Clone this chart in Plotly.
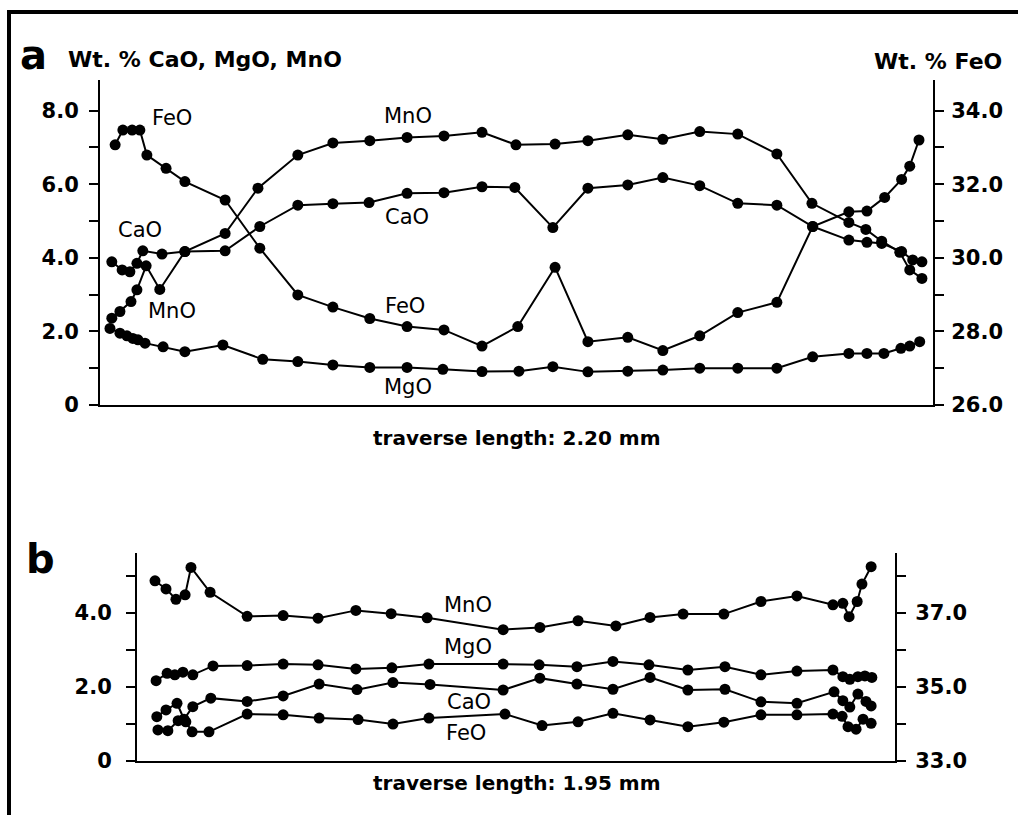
import plotly.graph_objects as go

W, H = 1018, 815

# ---------------- Panel a (traverse 2.20 mm) ----------------
a_mno_x = [0.005, 0.027, 0.057, 0.073, 0.098, 0.135, 0.203, 0.312, 0.401, 0.509, 0.604, 0.704,
           0.805, 0.905, 1.008, 1.100, 1.206, 1.295, 1.403, 1.498, 1.598, 1.701, 1.807, 1.902,
           2.002, 2.048, 2.091, 2.140, 2.167, 2.200]
a_mno = [2.36, 2.54, 2.81, 3.13, 3.78, 3.14, 4.17, 4.66, 5.89, 6.79, 7.12, 7.18,
         7.27, 7.31, 7.41, 7.07, 7.09, 7.18, 7.34, 7.22, 7.43, 7.36, 6.82, 5.48,
         4.96, 4.77, 4.45, 4.15, 3.67, 3.44]

a_cao_x = [0.005, 0.033, 0.054, 0.073, 0.089, 0.141, 0.203, 0.312, 0.406, 0.509, 0.604, 0.702,
           0.805, 0.905, 1.008, 1.097, 1.200, 1.295, 1.403, 1.498, 1.598, 1.701, 1.807, 1.904,
           2.002, 2.051, 2.091, 2.145, 2.175, 2.200]
a_cao = [3.89, 3.67, 3.62, 3.85, 4.19, 4.10, 4.17, 4.19, 4.85, 5.43, 5.47, 5.50,
         5.75, 5.77, 5.93, 5.91, 4.82, 5.89, 5.98, 6.18, 5.96, 5.48, 5.43, 4.85,
         4.48, 4.42, 4.39, 4.17, 3.94, 3.89]

a_mgo_x = [0.000, 0.027, 0.046, 0.062, 0.076, 0.095, 0.144, 0.203, 0.306, 0.414, 0.509, 0.604,
           0.704, 0.805, 0.902, 1.008, 1.108, 1.200, 1.295, 1.403, 1.498, 1.598, 1.701, 1.807,
           1.904, 2.002, 2.051, 2.097, 2.143, 2.167, 2.194]
a_mgo = [2.08, 1.95, 1.88, 1.81, 1.77, 1.68, 1.58, 1.45, 1.63, 1.24, 1.18, 1.09,
         1.02, 1.02, 0.97, 0.91, 0.92, 1.04, 0.90, 0.92, 0.95, 1.00, 1.00, 1.00,
         1.31, 1.40, 1.40, 1.40, 1.54, 1.60, 1.72]

a_feo_x = [0.014, 0.035, 0.060, 0.081, 0.100, 0.152, 0.203, 0.312, 0.406, 0.509, 0.604, 0.704,
           0.805, 0.905, 1.008, 1.105, 1.206, 1.295, 1.403, 1.498, 1.598, 1.701, 1.807, 1.904,
           2.002, 2.051, 2.099, 2.145, 2.167, 2.192]
a_feo = [33.07, 33.47, 33.47, 33.47, 32.79, 32.43, 32.07, 31.57, 30.26, 28.99, 28.66, 28.35,
         28.13, 28.04, 27.60, 28.13, 29.74, 27.72, 27.84, 27.48, 27.88, 28.51, 28.79, 30.85,
         31.25, 31.27, 31.64, 32.13, 32.49, 33.20]

a_left_ticks = [0, 1, 2, 3, 4, 5, 6, 7, 8]
a_left_text = ["0", "", "2.0", "", "4.0", "", "6.0", "", "8.0"]
a_right_ticks = [26, 27, 28, 29, 30, 31, 32, 33, 34]
a_right_text = ["26.0", "", "28.0", "", "30.0", "", "32.0", "", "34.0"]

# ---------------- Panel b (traverse 1.95 mm) ----------------
b_mno_x = [0.000, 0.030, 0.057, 0.082, 0.098, 0.150, 0.251, 0.349, 0.444, 0.547, 0.643, 0.741,
           0.948, 1.048, 1.152, 1.255, 1.348, 1.438, 1.549, 1.650, 1.748, 1.846, 1.873, 1.890,
           1.912, 1.925, 1.950]
b_mno = [4.86, 4.64, 4.36, 4.48, 5.22, 4.55, 3.90, 3.92, 3.85, 4.06, 3.97, 3.86,
         3.54, 3.60, 3.78, 3.64, 3.87, 3.96, 3.96, 4.30, 4.45, 4.21, 4.25, 3.89,
         4.30, 4.77, 5.24]

b_mgo_x = [0.003, 0.033, 0.054, 0.076, 0.103, 0.158, 0.251, 0.349, 0.444, 0.547, 0.645, 0.746,
           0.948, 1.046, 1.149, 1.247, 1.345, 1.451, 1.552, 1.650, 1.748, 1.846, 1.873, 1.892,
           1.914, 1.933, 1.952]
b_mgo = [2.16, 2.36, 2.32, 2.39, 2.32, 2.56, 2.57, 2.61, 2.59, 2.48, 2.51, 2.61,
         2.61, 2.59, 2.54, 2.68, 2.59, 2.45, 2.54, 2.32, 2.42, 2.45, 2.27, 2.20,
         2.27, 2.29, 2.25]

b_cao_x = [0.005, 0.030, 0.060, 0.079, 0.103, 0.152, 0.251, 0.349, 0.447, 0.550, 0.648, 0.749,
           0.948, 1.048, 1.149, 1.247, 1.348, 1.451, 1.552, 1.650, 1.748, 1.849, 1.873, 1.892,
           1.914, 1.936, 1.950]
b_cao = [1.19, 1.37, 1.55, 1.12, 1.46, 1.69, 1.60, 1.75, 2.07, 1.92, 2.11, 2.06,
         1.91, 2.23, 2.07, 1.93, 2.25, 1.91, 1.93, 1.59, 1.55, 1.86, 1.62, 1.45,
         1.80, 1.60, 1.48]

b_feo_x = [0.008, 0.035, 0.063, 0.084, 0.101, 0.147, 0.251, 0.349, 0.447, 0.553, 0.648, 0.746,
           0.953, 1.054, 1.152, 1.247, 1.348, 1.451, 1.549, 1.650, 1.748, 1.846, 1.871, 1.887,
           1.909, 1.928, 1.950]
b_feo = [33.83, 33.81, 34.08, 34.05, 33.78, 33.78, 34.26, 34.24, 34.15, 34.11, 33.99, 34.15,
         34.26, 33.95, 34.05, 34.28, 34.10, 33.92, 34.04, 34.24, 34.24, 34.26, 34.20, 33.92,
         33.85, 34.12, 34.01]

b_left_ticks = [0, 1, 2, 3, 4, 5]
b_left_text = ["0", "", "2.0", "", "4.0", ""]
b_right_ticks = [33, 34, 35, 36, 37, 38]
b_right_text = ["33.0", "", "35.0", "", "37.0", ""]


# ---------------- helpers for pixel-based layout ----------------
def px(x):
    return x / W


def py(y):
    return 1 - y / H


FONT = "DejaVu Sans"
tickfont = dict(family=FONT, size=21, color="black", weight="bold")
line_style = dict(color="black", width=2)
marker_style = dict(color="black", size=11)

fig = go.Figure()


def add(x, y, xa, ya):
    fig.add_trace(go.Scatter(x=x, y=y, xaxis=xa, yaxis=ya, mode="lines+markers",
                             line=line_style, marker=marker_style, showlegend=False,
                             hoverinfo="skip"))


add(a_mno_x, a_mno, "x", "y")
add(a_cao_x, a_cao, "x", "y")
add(a_mgo_x, a_mgo, "x", "y")
add(a_feo_x, a_feo, "x", "y2")
add(b_mno_x, b_mno, "x2", "y3")
add(b_mgo_x, b_mgo, "x2", "y3")
add(b_cao_x, b_cao, "x2", "y3")
add(b_feo_x, b_feo, "x2", "y4")

xcommon = dict(showline=True, linecolor="black", linewidth=2, showticklabels=False,
               ticks="", showgrid=False, zeroline=False, automargin=False, fixedrange=True)
ycommon = dict(showline=True, linecolor="black", linewidth=2, ticks="outside", ticklen=9,
               tickwidth=2, tickcolor="black", showgrid=False, zeroline=False,
               tickfont=tickfont, automargin=False, fixedrange=True, tickmode="array")

fig.update_layout(
    width=W, height=H,
    margin=dict(l=0, r=0, t=0, b=0),
    paper_bgcolor="white", plot_bgcolor="white",
    showlegend=False,
    xaxis=dict(domain=[px(100), px(933)], range=[-0.027, 2.230], anchor="y", **xcommon),
    yaxis=dict(domain=[py(405), py(80)], range=[0, 8.83], anchor="x",
               tickvals=a_left_ticks, ticktext=a_left_text, ticklabelstandoff=6, **ycommon),
    yaxis2=dict(overlaying="y", side="right", anchor="x", range=[26, 34.83],
                tickvals=a_right_ticks, ticktext=a_right_text, ticklabelstandoff=3, **ycommon),
    xaxis2=dict(domain=[px(137), px(895)], range=[-0.049, 2.015], anchor="y3", **xcommon),
    yaxis3=dict(domain=[py(760.7), py(553)], range=[0, 5.61], anchor="x2",
                tickvals=b_left_ticks, ticktext=b_left_text, ticklabelstandoff=10, **ycommon),
    yaxis4=dict(overlaying="y3", side="right", anchor="x2", range=[33, 38.61],
                tickvals=b_right_ticks, ticktext=b_right_text, ticklabelstandoff=5, **ycommon),
)


def label(text, x, y, size=21, bold=False, xanchor="center"):
    fig.add_annotation(text=text, x=px(x), y=py(y), xref="paper", yref="paper",
                       xanchor=xanchor, yanchor="middle", showarrow=False,
                       font=dict(family=FONT, size=size, color="black",
                                 weight="bold" if bold else "normal"))


# panel letters and axis titles
label("a", 18, 55, size=40, bold=True, xanchor="left")
label("Wt. % CaO, MgO, MnO", 66, 59, size=22, bold=True, xanchor="left")
label("Wt. % FeO", 1004, 61, size=22, bold=True, xanchor="right")
label("traverse length: 2.20 mm", 517, 438, size=20, bold=True)
label("b", 24, 559, size=40, bold=True, xanchor="left")
label("traverse length: 1.95 mm", 517, 783, size=20, bold=True)

# series labels panel a
label("FeO", 172, 118)
label("CaO", 140, 230)
label("MnO", 172, 311)
label("MnO", 408, 116)
label("CaO", 407, 217)
label("FeO", 405, 306)
label("MgO", 408, 387)
# series labels panel b
label("MnO", 468, 605)
label("MgO", 468, 647)
label("CaO", 469, 702)
label("FeO", 466, 733)

# frame lines (top and left)
fig.add_shape(type="line", xref="paper", yref="paper", x0=px(9), x1=1.0, y0=py(12), y1=py(12),
              line=dict(color="black", width=4))
fig.add_shape(type="line", xref="paper", yref="paper", x0=px(9), x1=px(9), y0=py(10), y1=0,
              line=dict(color="black", width=4))

fig.write_html("out.html", config={"displayModeBar": False},
               post_script="document.body.style.margin='0';")
